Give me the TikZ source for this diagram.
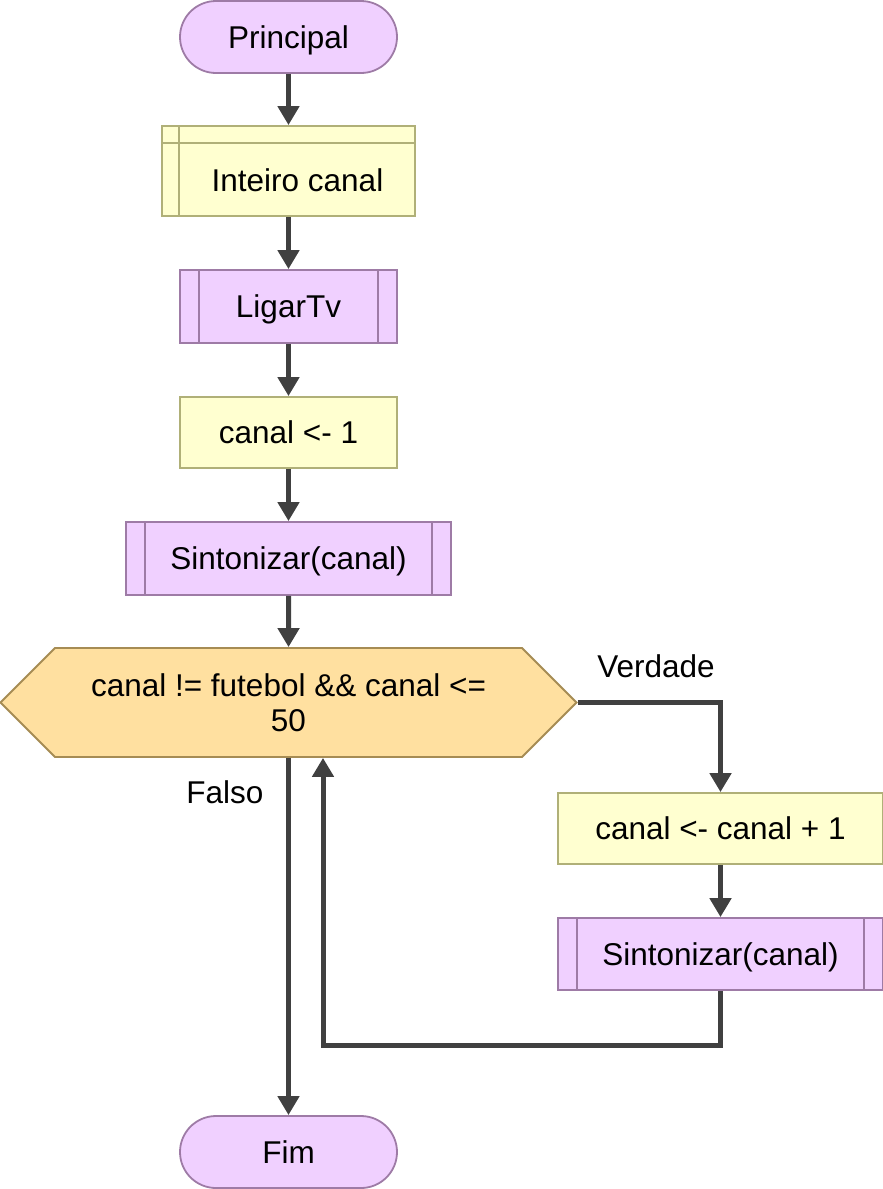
\documentclass[tikz,border=0pt]{standalone}
\usepackage{fontspec}
\setmainfont{Liberation Sans}
\usepackage{xcolor}
\definecolor{procfill}{HTML}{F0D0FF}
\definecolor{procline}{HTML}{9E7BA6}
\definecolor{declfill}{HTML}{FFFFD0}
\definecolor{declline}{HTML}{B0B078}
\definecolor{condfill}{HTML}{FFE0A0}
\definecolor{condline}{HTML}{A68C54}
\definecolor{wire}{HTML}{404040}
\usetikzlibrary{calc,arrows.meta,shapes.symbols}

\begin{document}
\begin{tikzpicture}[x=1pt, y=-1pt, font=\fontsize{31.5}{35}\selectfont,
		txt/.style={text height=22.5pt, text depth=0pt},
		base/.style={line width=1.8pt, inner sep=0pt, text=black},
		box/.style={base, txt},
		terminal/.style={box, draw=procline, fill=procfill, rounded corners=36pt, minimum width=217pt, minimum height=72pt},
		assign/.style={box, draw=declline, fill=declfill, minimum height=71pt},
		subproc/.style={box, draw=procline, fill=procfill, minimum height=73pt,
			path picture={\draw[procline, line width=1.8pt]
				([xshift=19pt]path picture bounding box.north west) -- ([xshift=19pt]path picture bounding box.south west)
				([xshift=-19pt]path picture bounding box.north east) -- ([xshift=-19pt]path picture bounding box.south east);}},
		decision/.style={base, draw=condline, fill=condfill, signal, signal to=west and east, signal pointer angle=90,
			minimum width=576pt, minimum height=109pt, align=center},
		flow/.style={draw=wire, line width=5pt, -{Triangle[width=21pt,length=19pt]}}]
	\useasboundingbox (0,0) rectangle (883,1189);

	% Main column
	\node[terminal] (principal) at (288.5,37) {Principal};
	\node[box, draw=declline, fill=declfill, minimum width=253pt, minimum height=90pt] (inteiro) at (288.5,171) {};
	\draw[declline, line width=1.8pt] ($(inteiro.north west)+(18,0)$) -- ($(inteiro.south west)+(18,0)$)
		($(inteiro.north west)+(0,18)$) -- ($(inteiro.north east)+(0,18)$);
	\node[txt] (inteirotxt) at ($(inteiro.center)+(9,9)$) {Inteiro canal};
	\node[subproc, minimum width=217pt] (ligar) at (288.5,306.5) {LigarTv};
	\node[assign, minimum width=217pt] (canalum) at (288.5,432.5) {canal <- 1};
	\node[subproc, minimum width=325pt] (sintum) at (288.5,558.5) {Sintonizar(canal)};
	\node[decision] (cond) at (288.5,702.5) {canal != futebol \&\& canal <=\\50};
	\node[terminal] (fim) at (288.5,1152) {Fim};

	% Loop body
	\node[assign, minimum width=325pt] (incr) at (720.5,828.5) {canal <- canal + 1};
	\node[subproc, minimum width=325pt, minimum height=72pt] (sintdois) at (720.5,954) {Sintonizar(canal)};

	% Branch labels
	\node[txt] (verdade) at (656,666) {Verdade};
	\node[txt] (falso) at (225,792) {Falso};

	% Connectors
	\draw[flow] (principal) -- (inteiro);
	\draw[flow] (inteiro) -- (ligar);
	\draw[flow] (ligar) -- (canalum);
	\draw[flow] (canalum) -- (sintum);
	\draw[flow] (sintum) -- (cond);
	\draw[flow] (cond.east) -| (incr.north);
	\draw[flow] (incr) -- (sintdois);
	\coordinate (back) at (323,1045);
	\draw[flow] (sintdois.south) |- (back) -- (back |- cond.south);
	\draw[flow] (cond.south) -- (fim.north);
\end{tikzpicture}
\end{document}
